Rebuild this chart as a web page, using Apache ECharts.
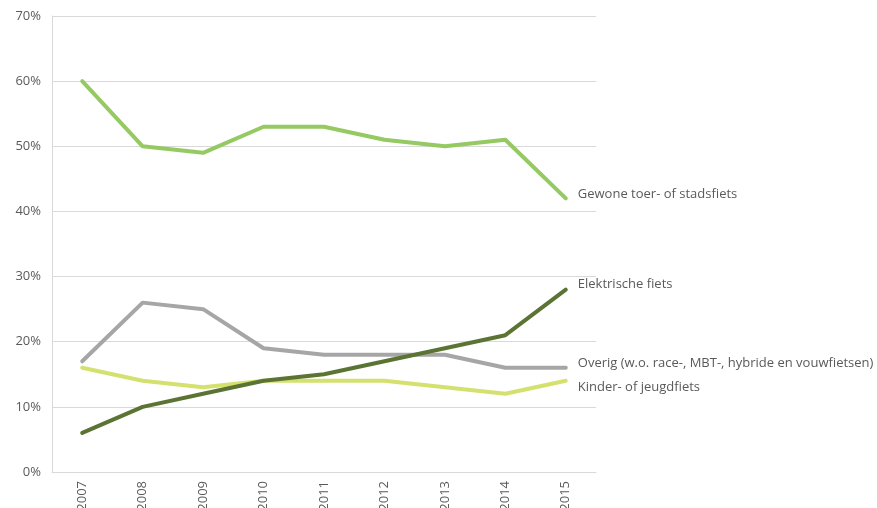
<!DOCTYPE html>
<html>
<head>
<meta charset="utf-8">
<script src="https://cdn.jsdelivr.net/npm/echarts@6/dist/echarts.min.js"></script>
<style>
html,body{margin:0;padding:0;background:#fff;}
#chart{width:877px;height:508px;}
</style>
</head>
<body>
<div id="chart"></div>
<script>
const years = ['2007','2008','2009','2010','2011','2012','2013','2014','2015'];
const gewone = [60, 50, 49, 53, 53, 51, 50, 51, 42];
const elektrisch = [6, 10, 12, 14, 15, 17, 19, 21, 28];
const overig = [17, 26, 25, 19, 18, 18, 18, 16, 16];
const kinder = [16, 14, 13, 14, 14, 14, 13, 12, 14];
const names = ['Gewone toer- of stadsfiets', 'Elektrische fiets', 'Overig (w.o. race-, MBT-, hybride en vouwfietsen)', 'Kinder- of jeugdfiets'];
const yTicks = [0, 10, 20, 30, 40, 50, 60, 70];

const FONT = 'Open Sans';
const TXT = '#5a5a5a';

function mk(name, data, color, dy, z) {
  return {
    name: name, type: 'line', data: data, symbol: 'none', z: z,
    lineStyle: { color: color, width: 4, cap: 'round', join: 'round' },
    itemStyle: { color: color },
    endLabel: {
      show: true, formatter: name, color: TXT, fontFamily: FONT, fontSize: 13,
      distance: 12, offset: [0, dy]
    },
    emphasis: { disabled: true }
  };
}

const chart = echarts.init(document.getElementById('chart'));
chart.setOption({
  animation: false,
  grid: { left: 52, right: 281, top: 16, bottom: 36, containLabel: false, outerBoundsMode: 'none' },
  xAxis: {
    type: 'category', data: years, boundaryGap: true,
    axisLine: { lineStyle: { color: '#d9d9d9', width: 1 } },
    axisTick: { alignWithLabel: true, length: 6, lineStyle: { color: '#d9d9d9' } },
    axisLabel: { rotate: 90, color: TXT, fontFamily: FONT, fontSize: 13, margin: 9 }
  },
  yAxis: {
    type: 'value', min: yTicks[0], max: yTicks[yTicks.length - 1], interval: 10,
    axisLine: { show: true, lineStyle: { color: '#d9d9d9', width: 1 } },
    axisTick: { show: false },
    splitLine: { lineStyle: { color: '#d9d9d9', width: 1 } },
    axisLabel: { formatter: '{value}%', color: TXT, fontFamily: FONT, fontSize: 13, margin: 11 }
  },
  series: [
    mk(names[0], gewone, '#95c962', -4, 4),
    mk(names[1], elektrisch, '#5c7433', -5, 5),
    mk(names[2], overig, '#a6a6a6', -4, 3),
    mk(names[3], kinder, '#d4e16f', 6, 2)
  ]
});
</script>
</body>
</html>
